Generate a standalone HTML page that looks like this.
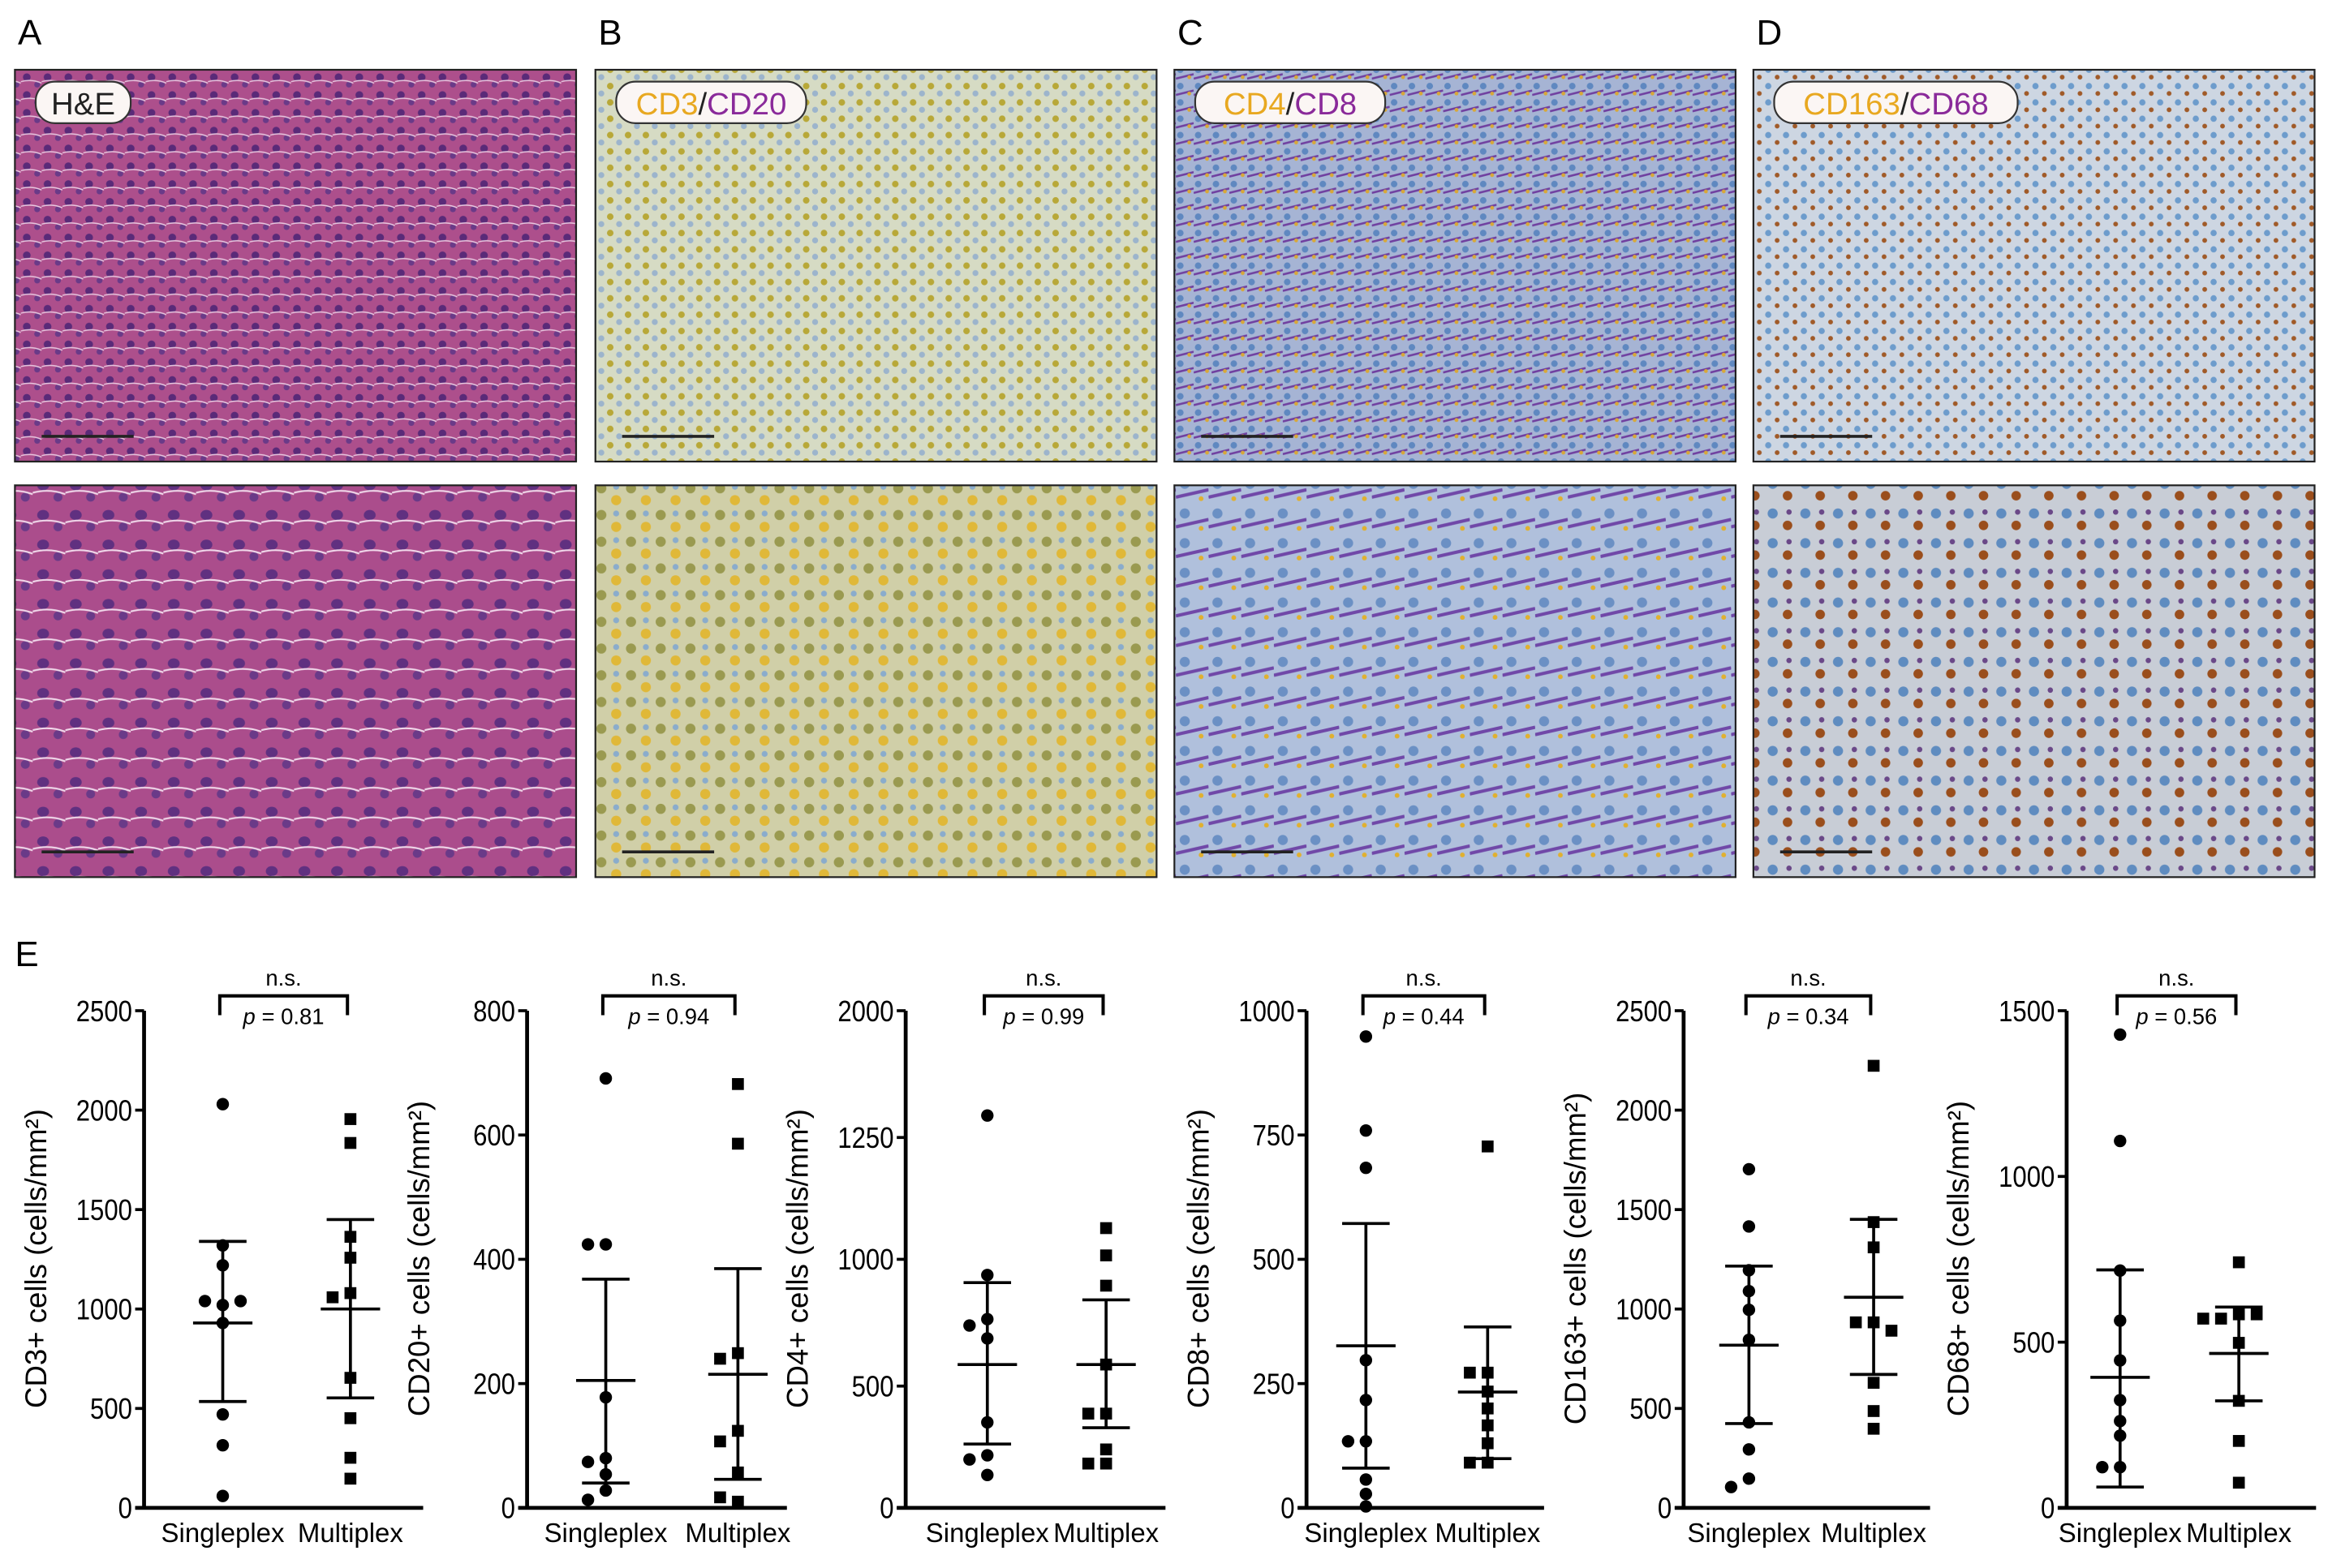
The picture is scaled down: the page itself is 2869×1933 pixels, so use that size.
<!DOCTYPE html>
<html><head><meta charset="utf-8"><style>
html,body{margin:0;padding:0;background:#fff;}
svg{display:block;font-family:"Liberation Sans",sans-serif;}
</style></head><body>
<svg id="fig" width="2869" height="1933" viewBox="0 0 1568 1056.5" xmlns="http://www.w3.org/2000/svg">
<defs>
<pattern id="pHE" width="14" height="12" patternUnits="userSpaceOnUse"><rect width="14" height="12" fill="#ad4f8c"/><circle cx="4" cy="4" r="2.6" fill="#5a2a78"/><circle cx="11" cy="9" r="2" fill="#6a3a88"/><path d="M0 7 Q7 5 14 8" stroke="#e8c8e0" stroke-width="0.8" fill="none"/></pattern>
<pattern id="pHE2" width="22" height="20" patternUnits="userSpaceOnUse"><rect width="22" height="20" fill="#ab4d8c"/><ellipse cx="7" cy="7" rx="4" ry="3.4" fill="#603080"/><circle cx="17" cy="15" r="3" fill="#6a3a88"/><path d="M0 12 Q11 9 22 13" stroke="#f0d8ea" stroke-width="1.2" fill="none"/></pattern>
<pattern id="pB" width="12" height="11" patternUnits="userSpaceOnUse"><rect width="12" height="11" fill="#d6dbc4"/><circle cx="3" cy="3" r="2.2" fill="#b8a838"/><circle cx="9" cy="8" r="2" fill="#9cb4cc"/></pattern>
<pattern id="pB2" width="20" height="18" patternUnits="userSpaceOnUse"><rect width="20" height="18" fill="#d0cfa8"/><circle cx="5" cy="5" r="3.4" fill="#9a9a50"/><circle cx="15" cy="13" r="3.4" fill="#e0b838"/><circle cx="15" cy="4" r="2" fill="#8aaccc"/></pattern>
<pattern id="pC" width="12" height="11" patternUnits="userSpaceOnUse"><rect width="12" height="11" fill="#a6b4d4"/><circle cx="3" cy="3" r="2.2" fill="#5f88c0"/><path d="M0 9 L12 6" stroke="#7040a0" stroke-width="1.4"/><circle cx="9" cy="8" r="1.3" fill="#d8a838"/></pattern>
<pattern id="pC2" width="22" height="20" patternUnits="userSpaceOnUse"><rect width="22" height="20" fill="#b0c0dc"/><circle cx="6" cy="6" r="3.4" fill="#6b90c4"/><path d="M0 15 L22 10" stroke="#7048a8" stroke-width="2.2"/><circle cx="17" cy="16" r="1.6" fill="#e0b030"/></pattern>
<pattern id="pD" width="12" height="11" patternUnits="userSpaceOnUse"><rect width="12" height="11" fill="#cdd6e2"/><circle cx="3" cy="3" r="2.1" fill="#6d9ccc"/><circle cx="9" cy="8" r="1.6" fill="#a05a28"/></pattern>
<pattern id="pD2" width="22" height="20" patternUnits="userSpaceOnUse"><rect width="22" height="20" fill="#c8cdd6"/><circle cx="6" cy="6" r="3.4" fill="#5f8cc0"/><circle cx="16" cy="14" r="3.2" fill="#9a4e1c"/><circle cx="17" cy="5" r="1.8" fill="#6a4888"/></pattern>
</defs>
<g id="images"></g>
<g id="charts"></g>
<text x="10" y="651" font-size="24" fill="#000">E</text>
</svg>
<script>
const NS="http://www.w3.org/2000/svg";
function mk(tag,attrs,parent,txt){const e=document.createElementNS(NS,tag);for(const k in attrs)e.setAttribute(k,attrs[k]);if(txt!==undefined)e.textContent=txt;parent.appendChild(e);return e;}

/* ---------- micrographs ---------- */
const imgG=document.getElementById('images');
const panelLetters=["A","B","C","D"];
const panelX=[10,401,791,1181];
const stains=[["H&E"],["CD3","CD20"],["CD4","CD8"],["CD163","CD68"]];
const pats=[["pHE","pHE2"],["pB","pB2"],["pC","pC2"],["pD","pD2"]];
for(let i=0;i<4;i++){
  const x=panelX[i];
  const t=mk('text',{x:x+2,y:30,'font-size':24,fill:'#000'},imgG,panelLetters[i]);
  
  
  for(let r=0;r<2;r++){
    const y=r?327:47;
    const rc=mk('rect',{x:x,y:y,width:378,height:264,fill:'url(#'+pats[i][r]+')',stroke:'#222','stroke-width':1.2},imgG);
    
    
    const sb=mk('line',{x1:x+18,x2:x+80,y1:y+247,y2:y+247,stroke:'#222','stroke-width':2},imgG);
    
    
  }
  const w=i===0?64:(i===3?164:128);
  const pill=mk('rect',{x:x+14,y:55,width:w,height:28,rx:13,fill:'#fbf6f4',stroke:'#333','stroke-width':1.2},imgG);
  
  
  const tt=mk('text',{x:x+14+w/2,y:77,'font-size':21,'text-anchor':'middle'},imgG);
  
  
  if(i===0){mk('tspan',{fill:'#222'},tt,'H&E');}
  else{mk('tspan',{fill:'#e8a820'},tt,stains[i][0]);mk('tspan',{fill:'#222'},tt,'/');mk('tspan',{fill:'#8a2a9a'},tt,stains[i][1]);}
}

/* ---------- chart data ---------- */
const markers=["CD3","CD20","CD4","CD8","CD163","CD68"];
const yMax=[2500,800,2000,1000,2500,1500];
const yTicks=[[0,500,1000,1500,2000,2500],[0,200,400,600,800],[0,500,1000,1250,2000],[0,250,500,750,1000],[0,500,1000,1500,2000,2500],[0,500,1000,1500]];
const pValues=["0.81","0.94","0.99","0.44","0.34","0.56"];
const categories=["Singleplex","Multiplex"];
const singleVals=[
 [2030,1320,1220,1020,1040,1040,930,470,315,60],
 [691,424,424,178,80,74,54,28,13],
 [1380,938,764,739,688,351,216,199,135],
 [948,759,684,297,217,134,134,57,28,3],
 [1703,1415,1195,1090,996,845,430,294,147,105],
 [1428,1107,716,565,445,325,262,218,123,123]];
const multiVals=[
 [1955,1835,1363,1258,1080,1059,654,451,252,147],
 [682,586,249,124,107,57,10,17,240],
 [1064,1008,896,585,387,387,240,182,182],
 [727,272,272,234,200,166,130,91,91],
 [2223,1437,1310,933,933,891,629,487,398],
 [741,584,571,584,498,323,202,76,571]];
const singleMean=[930,205,585,326,818,394];
const singleSDhi=[1340,368,908,572,1216,718];
const singleSDlo=[535,40,262,80,424,63];
const multiMean=[1000,215,585,233,1059,466];
const multiSDhi=[1450,385,840,364,1451,606];
const multiSDlo=[553,46,329,99,671,323];

/* layout (not data) */
const axX=[97,355,610,880,1134,1392];
const cat1=[150,408,665,920,1178,1428];
const cat2=[236,497,745,1002,1262,1508];
const xEnd=[285,530,785,1040,1300,1560];
const yTop=681,yZero=1016;
/* CD4 panel uses a segmented axis: pixel fraction of each tick */
const tickFrac={2:[0,0.245,0.5,0.745,1]};

const cg=document.getElementById('charts');
function yScale(i,v){
  let f;
  const fr=tickFrac[i];
  if(fr){
    const t=yTicks[i];f=1;
    for(let k=0;k<t.length-1;k++){if(v<=t[k+1]){f=fr[k]+(v-t[k])/(t[k+1]-t[k])*(fr[k+1]-fr[k]);break;}}
  } else f=v/yMax[i];
  return yZero-f*(yZero-yTop);
}
for(let i=0;i<6;i++){
  const g=mk('g',{},cg);
  
  
  const ya=mk('line',{x1:axX[i],x2:axX[i],y1:yTop,y2:yZero,stroke:'#000','stroke-width':2.6},g);
  
  
  const xa=mk('line',{x1:axX[i]-6,x2:xEnd[i],y1:yZero,y2:yZero,stroke:'#000','stroke-width':2.6},g);
  
  
  yTicks[i].forEach(v=>{
    const y=yScale(i,v);
    const tk=mk('line',{x1:axX[i]-6,x2:axX[i],y1:y,y2:y,stroke:'#000','stroke-width':2},g);
    
    
    const tl=mk('text',{x:axX[i]-8,y:y+7,'font-size':20,'text-anchor':'end',fill:'#000',transform:'translate('+(axX[i]-8)+',0) scale(0.85,1) translate('+(-(axX[i]-8))+',0)'},g,String(v));
    
    
  });
  const yl=mk('text',{x:0,y:0,'font-size':20,'text-anchor':'middle',fill:'#000',transform:'translate('+(axX[i]-66)+',848) rotate(-90)'},g,markers[i]+'+ cells (cells/mm²)');
  
  
  [cat1[i],cat2[i]].forEach((cx,k)=>{
    const cl=mk('text',{x:cx,y:1039,'font-size':18,'text-anchor':'middle',fill:'#000'},g,categories[k]);
    
    
  });
  const bx1=cat1[i]-2,bx2=cat2[i]-2;
  const br=mk('path',{d:'M'+bx1+' 684 V671 H'+bx2+' V684',fill:'none',stroke:'#000','stroke-width':2.2},g);
  
  
  const ns=mk('text',{x:(bx1+bx2)/2,y:664,'font-size':15,'text-anchor':'middle',fill:'#000'},g,'n.s.');
  
  
  const pt=mk('text',{x:(bx1+bx2)/2,y:690,'font-size':15,'text-anchor':'middle',fill:'#000'},g);
  
  
  mk('tspan',{'font-style':'italic'},pt,'p');
  mk('tspan',{},pt,' = '+pValues[i]);
  const series=[[singleVals[i],singleMean[i],singleSDhi[i],singleSDlo[i],cat1[i],'circle'],[multiVals[i],multiMean[i],multiSDhi[i],multiSDlo[i],cat2[i],'square']];
  series.forEach(([vals,mean,hi,lo,cx,shape],k)=>{
    const placed=[];
    vals.forEach(v=>{
      const y=yScale(i,v);
      const near=placed.filter(p=>Math.abs(p-y)<8).length;
      placed.push(y);
      const off=near===0?0:(near%2?-12:12)*Math.ceil(near/2);
      let m;
      if(shape==='circle') m=mk('circle',{cx:cx+off,cy:y,r:4.2,fill:'#000'},g);
      else m=mk('rect',{x:cx+off-4,y:y-4,width:8,height:8,fill:'#000'},g);
      
      
    });
    const yh=yScale(i,hi),yl2=yScale(i,lo),ym=yScale(i,mean);
    const ev=mk('line',{x1:cx,x2:cx,y1:yh,y2:yl2,stroke:'#000','stroke-width':2},g);
    
    
    [yh,yl2].forEach(yy=>{
      const cap=mk('line',{x1:cx-16,x2:cx+16,y1:yy,y2:yy,stroke:'#000','stroke-width':2},g);
      
      
    });
    const ml=mk('line',{x1:cx-20,x2:cx+20,y1:ym,y2:ym,stroke:'#000','stroke-width':2},g);
    
    
  });
}
</script>
</body></html>
